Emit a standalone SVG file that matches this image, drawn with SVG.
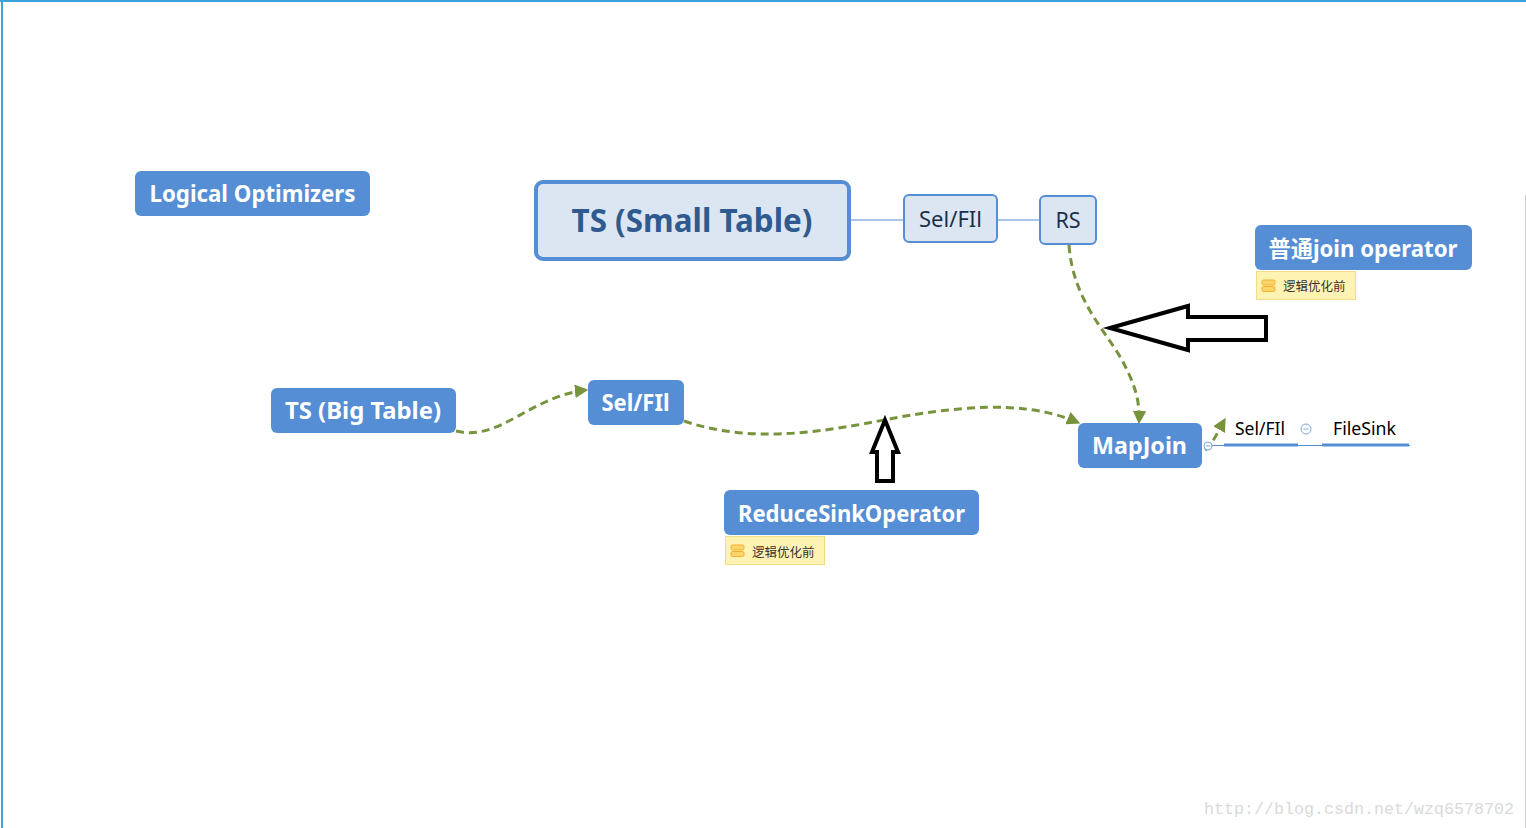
<svg xmlns="http://www.w3.org/2000/svg" width="1526" height="828" viewBox="0 0 1526 828">
<defs>
<marker id="ah" viewBox="0 0 10 10" refX="9" refY="5" markerWidth="4.5" markerHeight="4.5" markerUnits="strokeWidth" orient="auto">
<path d="M0,0 L10,5 L0,10 z" fill="#77933c"/>
</marker>
<g id="noteicon">
<rect x="0" y="0" width="13" height="5" rx="1.5" fill="#fcd56a" stroke="#f0b030" stroke-width="1"/>
<rect x="0" y="6.5" width="13" height="5" rx="1.5" fill="#fcd56a" stroke="#f0b030" stroke-width="1"/>
</g>
</defs>
<style>
.solid{fill:#558ed5;}
.wt{fill:#fff;font-family:"Noto Sans","Noto Sans CJK SC",sans-serif;font-weight:bold;font-size:22.5px;text-anchor:middle;}
.lt{fill:#dce6f2;stroke:#558ed5;}
.lbl{fill:#1b2f4a;font-family:"Noto Sans","Noto Sans CJK SC",sans-serif;font-size:21.5px;text-anchor:middle;}
.note{fill:#fff3b4;stroke:#f3dc86;stroke-width:1;}
.nt{fill:#333;font-family:"Noto Sans CJK SC",sans-serif;font-size:12.5px;}
.dash{fill:none;stroke:#77933c;stroke-width:3;stroke-dasharray:8,5;marker-end:url(#ah);}
.tree{stroke:#558ed5;fill:none;}
.big{fill:#fff;stroke:#000;stroke-width:4;stroke-linejoin:miter;}
.sm{fill:#000;font-family:"Noto Sans",sans-serif;font-size:17.5px;}
</style>
<rect x="0" y="0" width="1526" height="828" fill="#fff"/>
<line x1="0" y1="1" x2="1526" y2="1" stroke="#3aa3da" stroke-width="2"/>
<line x1="2" y1="0" x2="2" y2="828" stroke="#3aa3da" stroke-width="2"/>
<line x1="1525.5" y1="195" x2="1525.5" y2="828" stroke="#cfcfcf" stroke-width="1"/>

<g id="connectors">
<line class="tree" x1="849" y1="220" x2="904" y2="220" stroke-width="1.2"/>
<line class="tree" x1="997" y1="220" x2="1040" y2="220" stroke-width="1.2"/>
<path class="dash" d="M456,431 C500,442 530,396 587,390"/>
<path class="dash" d="M684,421 C760,447 840,428 900,417 C990,401 1040,406 1079,423"/>
<path class="dash" d="M1069,245 C1073,300 1105,330 1122,360 C1135,385 1140,400 1139,423"/>
<path class="dash" d="M1205,450 C1212,445 1216,435 1225,419"/>
<line class="tree" x1="1212" y1="445.5" x2="1410" y2="445.5" stroke-width="1"/>
<line class="tree" x1="1224" y1="445" x2="1298" y2="445" stroke-width="3"/>
<line class="tree" x1="1322" y1="445" x2="1409" y2="445" stroke-width="3"/>
<circle cx="1208" cy="446" r="4" fill="#fff" stroke="#7ea6dc" stroke-width="1"/>
<line x1="1206" y1="446" x2="1210" y2="446" stroke="#7ea6dc" stroke-width="1"/>
</g>

<g id="logical-optimizers">
<rect class="solid" x="135" y="171" width="235" height="45" rx="6"/>
<text class="wt" x="252.5" y="202" textLength="206" lengthAdjust="spacingAndGlyphs">Logical Optimizers</text>
</g>

<g id="ts-small">
<rect class="lt" x="536" y="182" width="313" height="77" rx="7" stroke-width="4"/>
<text x="692" y="232" fill="#2f5a8f" font-family="Noto Sans, sans-serif" font-weight="bold" font-size="31.5px" text-anchor="middle" textLength="241" lengthAdjust="spacingAndGlyphs">TS (Small Table)</text>
</g>

<g id="selfil-top">
<rect class="lt" x="904" y="195" width="93" height="47" rx="5" stroke-width="2"/>
<text class="lbl" x="950.5" y="227" textLength="63" lengthAdjust="spacingAndGlyphs">Sel/FIl</text>
</g>

<g id="rs">
<rect class="lt" x="1040" y="196" width="56" height="48" rx="5" stroke-width="2"/>
<text class="lbl" x="1068" y="228">RS</text>
</g>

<g id="normal-join">
<rect class="solid" x="1255" y="225" width="217" height="45" rx="6"/>
<text class="wt" x="1363" y="257" textLength="189" lengthAdjust="spacingAndGlyphs">普通join operator</text>
<rect class="note" x="1256.5" y="271.5" width="99" height="28"/>
<use href="#noteicon" x="1262" y="280"/>
<text class="nt" x="1283" y="291">逻辑优化前</text>
</g>

<g id="big-left-arrow">
<polygon class="big" points="1110,328 1188,306 1188,317 1266,317 1266,340 1188,340 1188,350"/>
</g>

<g id="ts-big">
<rect class="solid" x="271" y="388" width="185" height="45" rx="6"/>
<text class="wt" x="363" y="419" textLength="156" lengthAdjust="spacingAndGlyphs">TS (Big Table)</text>
</g>

<g id="selfil-mid">
<rect class="solid" x="588" y="380" width="96" height="45" rx="6"/>
<text class="wt" x="635.5" y="411" textLength="68" lengthAdjust="spacingAndGlyphs">Sel/FIl</text>
</g>

<g id="up-arrow">
<polygon class="big" points="885,420 898,452 893,452 893,481 877,481 877,452 872,452"/>
</g>

<g id="reducesink">
<rect class="solid" x="724" y="490" width="255" height="45" rx="6"/>
<text class="wt" x="851.5" y="522" textLength="227" lengthAdjust="spacingAndGlyphs">ReduceSinkOperator</text>
<rect class="note" x="725.5" y="536.5" width="99" height="28"/>
<use href="#noteicon" x="731" y="545"/>
<text class="nt" x="752" y="557">逻辑优化前</text>
</g>

<g id="mapjoin">
<rect class="solid" x="1078" y="423" width="124" height="45" rx="6"/>
<text class="wt" x="1139.5" y="454" textLength="95" lengthAdjust="spacingAndGlyphs">MapJoin</text>
</g>

<g id="selfil-small">
<text class="sm" x="1235" y="435" textLength="50" lengthAdjust="spacingAndGlyphs">Sel/FIl</text>
<circle cx="1306" cy="429" r="5" fill="#fff" stroke="#7ea6dc" stroke-width="1"/>
<line x1="1303.5" y1="429" x2="1308.5" y2="429" stroke="#7ea6dc" stroke-width="1"/>
</g>

<g id="filesink">
<text class="sm" x="1333" y="435" textLength="63" lengthAdjust="spacingAndGlyphs">FileSink</text>
</g>

<text x="1204" y="814" fill="#d9d9d9" font-family="Liberation Mono, monospace" font-size="16.5px" textLength="310" lengthAdjust="spacingAndGlyphs">http://blog.csdn.net/wzq6578702</text>
</svg>
